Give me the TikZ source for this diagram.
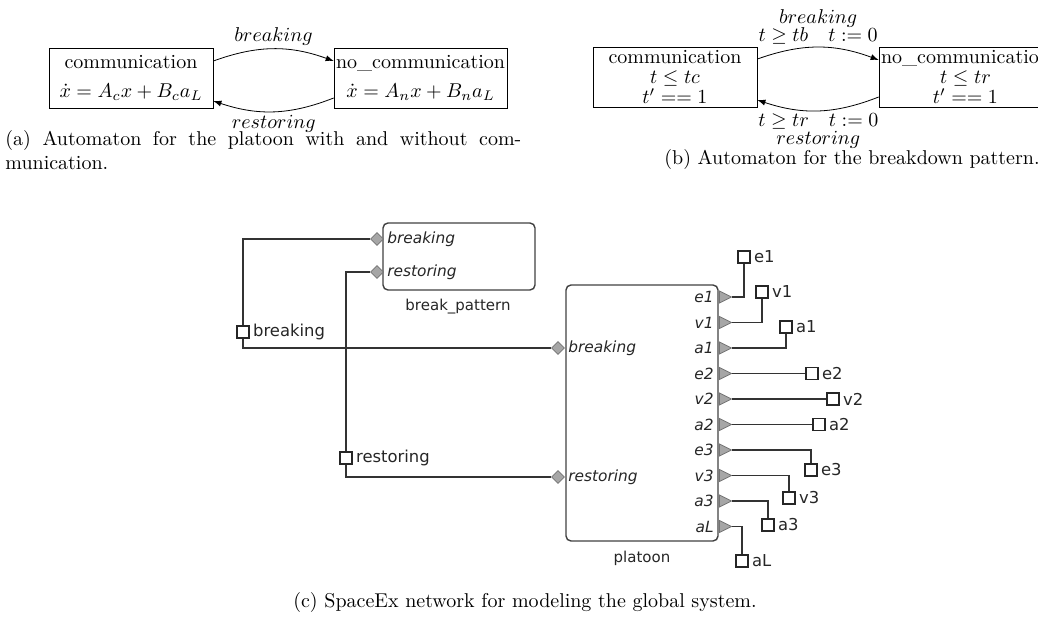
\documentclass[tikz,border=0pt]{standalone}
\usepackage{fontspec}
\newfontfamily\sxfont{DejaVu Sans}
\usetikzlibrary{shapes.geometric}
\tikzset{
  loc/.style={draw, minimum width=82pt, minimum height=30pt, align=center, inner sep=1pt},
  trans/.style={-latex, bend left=20},
  guard/.style={inner sep=1.5pt, align=center},
  comp/.style={draw=black!75, line width=0.7pt, rounded corners=2.5pt, inner sep=0pt},
  wire/.style={draw=black!80, line width=0.7pt},
  inport/.style={diamond, draw=black!55, fill=black!35, minimum size=6.5pt, inner sep=0pt},
  outport/.style={isosceles triangle, isosceles triangle stretches, draw=black!55, fill=black!35,
    minimum height=6pt, minimum width=6pt, inner sep=0pt},
  term/.style={draw=black!85, fill=white, minimum size=6pt, inner sep=0pt, line width=0.7pt},
  sxlab/.style={font=\sxfont\fontsize{8.2}{10}\selectfont, text=black!85, inner sep=1.5pt},
  portlab/.style={font=\sxfont\itshape\fontsize{7.7}{9}\selectfont, text=black!85, inner sep=1.5pt},
  namelab/.style={font=\sxfont\fontsize{7.5}{9}\selectfont, text=black!85}
}
\begin{document}
\begin{tikzpicture}[x=0.5pt, y=-0.5pt]
\useasboundingbox (0,0) rectangle (1038,625);
\node[loc] (ca) at (131,78) {communication\\[2.5pt]$\dot{x}=A_cx+B_ca_L$};
\node[loc] (na) at (420.5,78) {no\_communication\\[2.5pt]$\dot{x}=A_nx+B_na_L$};
\draw[trans] ([yshift=8.5pt]ca.east) to node[guard, above] {$breaking$} ([yshift=8.5pt]na.west);
\draw[trans] ([yshift=-10pt]na.west) to node[guard, below] {$restoring$} ([yshift=-11.5pt]ca.east);
\node[anchor=north west, inner sep=0pt, text width=258pt, align=justify] (capa) at (5,130)
  {(a) Automaton for the platoon with and without com-\linebreak munication.};
\node[loc] (cb) at (675,77) {communication\\[-2pt]$t\leq tc$\\[-2pt]$t'==1$};
\node[loc] (nb) at (965.5,77) {no\_communication\\[-2pt]$t\leq tr$\\[-2pt]$t'==1$};
\draw[trans] ([yshift=9pt]cb.east) to node[guard, above] {$breaking$\\[-3pt]$t\geq tb\quad t:=0$} ([yshift=8.5pt]nb.west);
\draw[trans] ([yshift=-10pt]nb.west) to node[guard, below] {$t\geq tr\quad t:=0$\\[-3pt]$restoring$} ([yshift=-11.5pt]cb.east);
\node (capb) at (852,160) {(b) Automaton for the breakdown pattern.};
\node[comp, minimum width=76pt, minimum height=33.5pt] (bp) at (459,256.5) {};
\node[namelab] (bpname) at (458,307) {break\_pattern};
\node[comp, minimum width=76pt, minimum height=128pt] (pl) at (642,413) {};
\node[namelab] (plname) at (642,558) {platoon};
\node[inport, label={[portlab]right:breaking}] (bpB) at (377,239) {};
\node[inport, label={[portlab]right:restoring}] (bpR) at (377,272) {};
\node[inport, label={[portlab]right:breaking}] (plB) at (558,348) {};
\node[inport, label={[portlab]right:restoring}] (plR) at (558,477) {};
\node[term, label={[sxlab]right:breaking}] (sB) at (243,332) {};
\node[term, label={[sxlab]right:restoring}] (sR) at (346,458) {};
\draw[wire] (bpB.west) -| (sB.north);
\draw[wire] (sB.south) |- (plB.west);
\draw[wire] (bpR.west) -| (sR.north);
\draw[wire] (sR.south) |- (plR.west);
\foreach \p [count=\i from 0] in {e1,v1,a1,e2,v2,a2,e3,v3,a3,aL}
  \node[outport, anchor=west, label={[portlab, label distance=1pt]left:\p}] (o\p) at (719,{297+25.5*\i}) {};
\foreach \p/\x/\y/\a in {e1/744/257/south, v1/762/292/south, a1/786/327/south,
    e2/812/373.5/west, v2/833/399/west, a2/819/424.5/west,
    e3/811/470/north, v3/789/498/north, a3/768/525/north, aL/742/561/north} {
  \node[term, label={[sxlab]right:\p}] (t\p) at (\x,\y) {};
  \draw[wire] (o\p.east) -| (t\p.\a);
}
\node (capc) at (525,602) {(c) SpaceEx network for modeling the global system.};
\end{tikzpicture}
\end{document}
